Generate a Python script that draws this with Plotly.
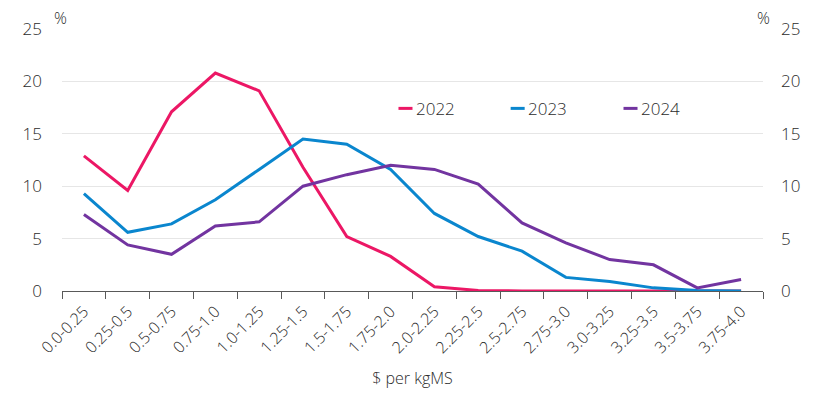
import plotly.graph_objects as go

categories = ["0.0-0.25", "0.25-0.5", "0.5-0.75", "0.75-1.0", "1.0-1.25", "1.25-1.5",
              "1.5-1.75", "1.75-2.0", "2.0-2.25", "2.25-2.5", "2.5-2.75", "2.75-3.0",
              "3.0-3.25", "3.25-3.5", "3.5-3.75", "3.75-4.0"]
y2022 = [12.9, 9.6, 17.1, 20.8, 19.1, 11.8, 5.2, 3.3, 0.4, 0.05, 0, 0, 0, 0, 0, 0]
y2023 = [9.3, 5.6, 6.4, 8.7, 11.6, 14.5, 14.0, 11.6, 7.4, 5.2, 3.8, 1.3, 0.9, 0.3, 0.05, 0.0]
y2024 = [7.3, 4.4, 3.5, 6.2, 6.6, 10.0, 11.1, 12.0, 11.6, 10.2, 6.5, 4.6, 3.0, 2.5, 0.3, 1.1]
series_names = ["2022", "2023", "2024"]
colors = ["#EC1765", "#0A86CE", "#7234A0"]
yticks = [0, 5, 10, 15, 20, 25]

FONT = "Open Sans"
TXT = "#2B2B2B"
W = 300

fig = go.Figure()
for name, vals, col in zip(series_names, [y2022, y2023, y2024], colors):
    fig.add_trace(go.Scatter(x=categories, y=vals, mode="lines", name=name,
                             line=dict(color=col, width=3), showlegend=False))
fig.add_trace(go.Scatter(x=categories, y=[None]*len(categories), yaxis="y2",
                         showlegend=False, hoverinfo="skip"))

# manual legend
leg_x = [0.502, 0.662, 0.823]
for name, col, lx in zip(series_names, colors, leg_x):
    fig.add_shape(type="line", xref="paper", yref="paper",
                  x0=lx - 0.022, x1=lx - 0.002, y0=0.697, y1=0.697,
                  line=dict(color=col, width=3))
    fig.add_annotation(text=name, xref="paper", yref="paper", x=lx, y=0.697,
                       xanchor="left", yanchor="middle", showarrow=False,
                       font=dict(family=FONT, size=17, color=TXT, weight=W))

fig.add_annotation(text="%", xref="paper", yref="paper", x=-0.002, y=1.042,
                   xanchor="center", yanchor="middle", showarrow=False,
                   font=dict(family=FONT, size=16, color=TXT, weight=W))
fig.add_annotation(text="%", xref="paper", yref="paper", x=1.0, y=1.042,
                   xanchor="center", yanchor="middle", showarrow=False,
                   font=dict(family=FONT, size=16, color=TXT, weight=W))

# page has an 8px body margin, so the figure is sized/offset to compensate
fig.update_layout(
    width=811, height=386,
    margin=dict(l=54, r=56, t=21, b=103),
    plot_bgcolor="white", paper_bgcolor="white",
    font=dict(family=FONT, size=16, color=TXT, weight=W),
    xaxis=dict(
        type="category", tickangle=-45, showgrid=False, automargin=False,
        range=[-0.5, len(categories) - 0.5],
        showline=True, linecolor="#595959", linewidth=1,
        ticks="outside", ticklen=7, tickcolor="#595959", tickson="boundaries",
        ticklabelstandoff=4,
        title=dict(text="$ per kgMS", font=dict(size=16, color=TXT, weight=W), standoff=16),
        tickfont=dict(size=16, color=TXT, weight=W),
    ),
    yaxis=dict(
        range=[0, 25], tickvals=yticks, showgrid=True, gridcolor="#E6E6E6",
        gridwidth=1, zeroline=False, showline=False, ticklabelstandoff=19,
        automargin=False, tickfont=dict(size=17, color=TXT, weight=W),
    ),
    yaxis2=dict(
        range=[0, 25], tickvals=yticks, overlaying="y", side="right",
        showgrid=False, zeroline=False, showline=False, ticklabelstandoff=17,
        automargin=False, tickfont=dict(size=17, color=TXT, weight=W),
    ),
)

fig.write_html("out.html")
